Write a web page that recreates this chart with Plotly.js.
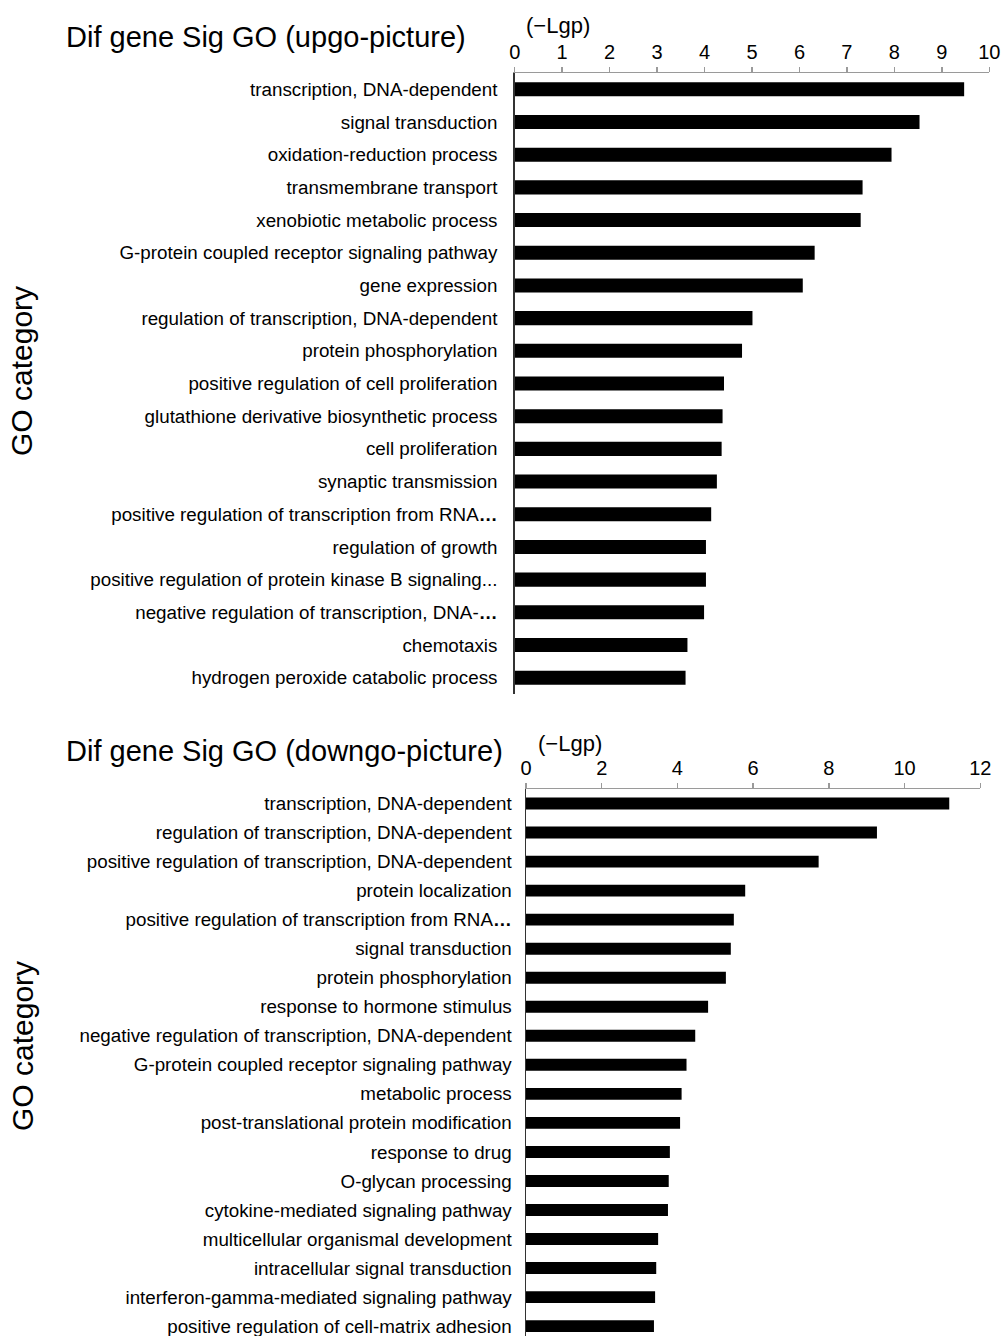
<!DOCTYPE html>
<html>
<head>
<meta charset="utf-8">
<script src="https://cdn.plot.ly/plotly-3.0.1.min.js"></script>
<style>html,body{margin:0;padding:0;background:#fff;}#chart{width:1004px;height:1336px;}</style>
</head>
<body>
<div id="chart"></div>
<script>
const upCategories = [
  "transcription, DNA-dependent",
  "signal transduction",
  "oxidation-reduction process",
  "transmembrane transport",
  "xenobiotic metabolic process",
  "G-protein coupled receptor signaling pathway",
  "gene expression",
  "regulation of transcription, DNA-dependent",
  "protein phosphorylation",
  "positive regulation of cell proliferation",
  "glutathione derivative biosynthetic process",
  "cell proliferation",
  "synaptic transmission",
  "positive regulation of transcription from RNA<b>…</b>",
  "regulation of growth",
  "positive regulation of protein kinase B signaling...",
  "negative regulation of transcription, DNA-<b>…</b>",
  "chemotaxis",
  "hydrogen peroxide catabolic process"
];
const upValues = [9.47, 8.53, 7.94, 7.33, 7.29, 6.32, 6.07, 5.01, 4.79, 4.41, 4.38, 4.36, 4.26, 4.14, 4.03, 4.03, 3.99, 3.64, 3.60];

const downCategories = [
  "transcription, DNA-dependent",
  "regulation of transcription, DNA-dependent",
  "positive regulation of transcription, DNA-dependent",
  "protein localization",
  "positive regulation of transcription from RNA<b>…</b>",
  "signal transduction",
  "protein phosphorylation",
  "response to hormone stimulus",
  "negative regulation of transcription, DNA-dependent",
  "G-protein coupled receptor signaling pathway",
  "metabolic process",
  "post-translational protein modification",
  "response to drug",
  "O-glycan processing",
  "cytokine-mediated signaling pathway",
  "multicellular organismal development",
  "intracellular signal transduction",
  "interferon-gamma-mediated signaling pathway",
  "positive regulation of cell-matrix adhesion"
];
const downValues = [11.18, 9.27, 7.73, 5.79, 5.49, 5.41, 5.28, 4.81, 4.47, 4.24, 4.11, 4.07, 3.80, 3.77, 3.75, 3.49, 3.44, 3.41, 3.38];

const upTicks = [0,1,2,3,4,5,6,7,8,9,10];
const downTicks = [0,2,4,6,8,10,12];

const W = 1004, H = 1336;
const FONT = "Liberation Sans, Arial, sans-serif";
const px = v => v / W;
const py = v => 1 - v / H;

const traces = [
  {type:'bar', orientation:'h', x: upValues, y: upCategories, xaxis:'x', yaxis:'y',
   marker:{color:'#000000', line:{width:0}}, width:0.43, hoverinfo:'x+y'},
  {type:'bar', orientation:'h', x: downValues, y: downCategories, xaxis:'x2', yaxis:'y2',
   marker:{color:'#000000', line:{width:0}}, width:0.41, hoverinfo:'x+y'}
];

const xCommon = {
  side:'top', showgrid:false, zeroline:false, showline:true, linecolor:'#9a9a9a', linewidth:1.5,
  ticks:'outside', ticklen:5, tickcolor:'#9a9a9a', tickwidth:1.5,
  tickfont:{family:FONT, size:20, color:'#000'}, fixedrange:true
};
const yCommon = {
  type:'category', showgrid:false, zeroline:false, showline:true, linecolor:'#333', linewidth:1.5,
  ticks:'', ticklabelstandoff:12, tickfont:{family:FONT, size:18.8, color:'#000'}, fixedrange:true
};

const layout = {
  width: W, height: H,
  margin:{l:0, r:0, t:0, b:0},
  paper_bgcolor:'#fff', plot_bgcolor:'#fff',
  showlegend:false,
  xaxis: Object.assign({}, xCommon, {domain:[px(514.7), px(989.3)], range:[0,10], tickvals:upTicks, anchor:'y'}),
  yaxis: Object.assign({}, yCommon, {domain:[py(694), py(73)], range:[18.5,-0.5], categoryarray:upCategories, categoryorder:'array', anchor:'x'}),
  xaxis2: Object.assign({}, xCommon, {domain:[px(526), px(980.3)], range:[0,12], tickvals:downTicks, anchor:'y2'}),
  yaxis2: Object.assign({}, yCommon, {domain:[0, py(789)], range:[18.34,-0.5], categoryarray:downCategories, categoryorder:'array', anchor:'x2', ticklabelstandoff:9}),
  annotations:[
    {text:'Dif gene Sig GO (upgo-picture)', xref:'paper', yref:'paper', x:px(64), y:py(37), xanchor:'left', yanchor:'middle', showarrow:false, font:{family:FONT, size:29, color:'#000'}},
    {text:'(−Lgp)', xref:'paper', yref:'paper', x:px(524), y:py(25), xanchor:'left', yanchor:'middle', showarrow:false, font:{family:FONT, size:22, color:'#000'}},
    {text:'GO category', xref:'paper', yref:'paper', x:px(22), y:py(371), xanchor:'center', yanchor:'middle', textangle:-90, showarrow:false, font:{family:FONT, size:30, color:'#000'}},
    {text:'Dif gene Sig GO (downgo-picture)', xref:'paper', yref:'paper', x:px(64), y:py(751), xanchor:'left', yanchor:'middle', showarrow:false, font:{family:FONT, size:29, color:'#000'}},
    {text:'(−Lgp)', xref:'paper', yref:'paper', x:px(536), y:py(744), xanchor:'left', yanchor:'middle', showarrow:false, font:{family:FONT, size:22, color:'#000'}},
    {text:'GO category', xref:'paper', yref:'paper', x:px(22), y:py(1046), xanchor:'center', yanchor:'middle', textangle:-90, showarrow:false, font:{family:FONT, size:30, color:'#000'}}
  ]
};

Plotly.newPlot('chart', traces, layout, {staticPlot:true, displayModeBar:false});
</script>
</body>
</html>
